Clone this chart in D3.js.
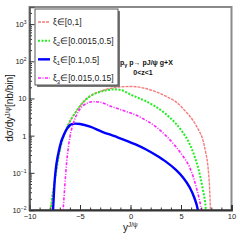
<!DOCTYPE html>
<html>
<head>
<meta charset="utf-8">
<script src="https://cdn.jsdelivr.net/npm/d3@7"></script>
<style>
  html, body { margin: 0; padding: 0; background: #fff; }
  svg { display: block; font-family: "Liberation Sans", Arial, sans-serif; }
</style>
</head>
<body>
<svg id="chart" width="240" height="240"></svg>
<script>
// rapidity values and dsigma/dy for each xi range
const xAll = [-8.0, -7.9, -7.5, -7.0, -6.5, -6.0, -5.5, -5.0, -4.5, -4.0, -3.0, -2.0, -1.0, 0.0, 0.5, 1.5, 2.5, 3.5, 4.5, 5.3, 6.17, 6.7, 7.17, 7.45, 7.67, 7.85, 7.95];
const yAll = [0.005, 0.01, 0.06, 0.4, 1.2, 2.4, 4.0, 6.2, 9.0, 11.6, 15.6, 18.6, 20.5, 21, 20.7, 18.5, 15.2, 11.5, 8.1, 5.0, 2.6, 1.5, 0.76, 0.35, 0.146, 0.03, 0.005];

const xXi2 = [-8.0, -7.9, -7.5, -7.0, -6.5, -6.0, -5.5, -5.0, -4.5, -4.0, -3.0, -2.0, -1.6, -1.0, 0.0, 0.5, 1.5, 2.5, 3.5, 4.5, 5.2, 5.83, 6.3, 6.67, 7.17, 7.4, 7.55];
const yXi2 = [0.005, 0.01, 0.06, 0.4, 1.2, 2.4, 4.0, 6.2, 9.0, 11.5, 15.0, 17.3, 17.6, 17.0, 12.8, 11.1, 8.5, 6.0, 3.8, 2.1, 1.2, 0.62, 0.3, 0.146, 0.035, 0.015, 0.005];

const xXi1 = [-7.72, -7.67, -7.5, -7.0, -6.5, -6.2, -6.0, -5.8, -5.5, -5.0, -4.0, -2.8, -1.5, 0.5, 1.5, 2.5, 3.5, 4.5, 5.2, 5.83, 6.3, 6.67, 6.8];
const yXi1 = [0.006, 0.01, 0.065, 0.5, 1.2, 1.65, 1.9, 2.05, 2.1, 2.05, 1.75, 1.27, 0.95, 0.58, 0.43, 0.30, 0.2, 0.12, 0.075, 0.042, 0.022, 0.01, 0.006];

const xXi3 = [-6.75, -6.67, -6.33, -6.0, -5.67, -5.17, -4.33, -3.67, -3.0, -1.83, -0.5, 0.5, 1.5, 2.5, 3.5, 4.5, 5.2, 5.83, 6.2, 6.5, 6.8, 7.0, 7.1];
const yXi3 = [0.005, 0.01, 0.18, 0.93, 2.1, 4.4, 7.4, 8.2, 7.9, 6.0, 4.5, 3.6, 2.6, 1.74, 1.0, 0.5, 0.28, 0.146, 0.08, 0.042, 0.02, 0.01, 0.005];

const xTicks = [-10, -5, 0, 5, 10];
const yTicks = [1e-2, 1e-1, 1, 10, 1e2, 1e3];
const yTickLabels = [["10", "-2"], ["10", "-1"], ["1", ""], ["10", ""], ["10", "2"], ["10", "3"]];

const series = [
  { sub: "", range: "\u2208[0,1]", xs: xAll, ys: yAll, color: "#f47c7c", width: 1.4, dash: "3,1" },
  { sub: "2", range: "\u2208[0.0015,0.5]", xs: xXi2, ys: yXi2, color: "#22ee22", width: 2, dash: "2,1.5" },
  { sub: "1", range: "\u2208[0.1,0.5]", xs: xXi1, ys: yXi1, color: "#0000ff", width: 2.4, dash: null },
  { sub: "3", range: "\u2208[0.015,0.15]", xs: xXi3, ys: yXi3, color: "#ff22ff", width: 1.6, dash: "3,1.5,1,1.5" }
];

const svg = d3.select('#chart');
const fLeft = 29.5, fRight = 231.5, fTop = 7, fBottom = 210;

const x = d3.scaleLinear().domain([-10, 10]).range([fLeft, fRight]);
const y = d3.scaleLog().domain([1e-2, Math.pow(10, 3.46)]).range([fBottom, fTop]);

svg.append('defs').append('clipPath').attr('id', 'clip')
  .append('rect')
  .attr('x', fLeft).attr('y', fTop)
  .attr('width', fRight - fLeft).attr('height', fBottom - fTop);

// frame
svg.append('rect')
  .attr('x', fLeft).attr('y', fTop)
  .attr('width', fRight - fLeft).attr('height', fBottom - fTop)
  .attr('fill', 'none')
  .attr('stroke', '#8a8a8a')
  .attr('stroke-width', 2);

// curves
const line = d3.line()
  .x(d => x(d[0]))
  .y(d => y(d[1]))
  .curve(d3.curveMonotoneX);

const plot = svg.append('g').attr('clip-path', 'url(#clip)');
series.forEach(s => {
  plot.append('path')
    .datum(s.xs.map((v, i) => [v, s.ys[i]]))
    .attr('d', line)
    .attr('fill', 'none')
    .attr('stroke', s.color)
    .attr('stroke-width', s.width)
    .attr('stroke-dasharray', s.dash);
});

// x axis
const xMinor = d3.range(-10, 10.01, 1);
svg.append('g')
  .attr('transform', `translate(0,${fBottom})`)
  .call(d3.axisBottom(x).tickValues(xMinor).tickSize(-2.5).tickFormat(''))
  .call(g => g.select('.domain').remove())
  .call(g => g.selectAll('line').attr('stroke', '#333'));

svg.append('g')
  .attr('transform', `translate(0,${fBottom})`)
  .call(d3.axisBottom(x).tickValues(xTicks).tickSize(-5).tickPadding(4).tickFormat(d3.format('d')))
  .call(g => g.select('.domain').attr('stroke', '#333').attr('stroke-width', 1.8))
  .call(g => g.selectAll('line').attr('stroke', '#333'))
  .call(g => g.selectAll('text').attr('font-size', 7.5).attr('fill', '#222').text(d => d < 0 ? '\u2212' + (-d) : d));

// y axis
const yMinor = [];
for (let e = -2; e <= 3; e++) {
  for (let k = 2; k <= 9; k++) {
    const v = k * Math.pow(10, e);
    if (v <= y.domain()[1]) yMinor.push(v);
  }
}
svg.append('g')
  .attr('transform', `translate(${fLeft},0)`)
  .call(d3.axisLeft(y).tickValues(yMinor).tickSize(-2.5).tickFormat(''))
  .call(g => g.select('.domain').remove())
  .call(g => g.selectAll('line').attr('stroke', '#333'));

const yAx = svg.append('g')
  .attr('transform', `translate(${fLeft},0)`)
  .call(d3.axisLeft(y).tickValues(yTicks).tickSize(-5).tickFormat(''))
  .call(g => g.select('.domain').attr('stroke', '#555').attr('stroke-width', 1.6))
  .call(g => g.selectAll('line').attr('stroke', '#333'));

yAx.selectAll('.tick').each(function(d, i) {
  const t = d3.select(this).append('text')
    .attr('x', -3)
    .attr('dy', '0.32em')
    .attr('fill', '#222')
    .attr('font-size', 7.5)
    .attr('text-anchor', 'end');
  t.append('tspan').text(yTickLabels[i][0]);
  if (yTickLabels[i][1]) {
    t.append('tspan').attr('dy', -3).attr('font-size', 5).text(yTickLabels[i][1].replace('-', '\u2212'));
  }
});

// axis titles
const yt = svg.append('text')
  .attr('transform', 'translate(13,108) rotate(-90)')
  .attr('text-anchor', 'middle')
  .attr('font-size', 10)
  .attr('fill', '#111');
yt.append('tspan').text('d\u03c3/dy');
yt.append('tspan').attr('dy', -3.5).attr('font-size', 6.5).text('J/\u03c8');
yt.append('tspan').attr('dy', 3.5).text('[nb/bin]');

const xt = svg.append('text')
  .attr('x', 123).attr('y', 231)
  .attr('font-size', 10)
  .attr('fill', '#111');
xt.append('tspan').text('y');
xt.append('tspan').attr('dy', -4).attr('font-size', 6.5).text('J/\u03c8');

// legend
const lg = svg.append('g');
lg.append('rect')
  .attr('x', 37).attr('y', 11)
  .attr('width', 83).attr('height', 76)
  .attr('fill', '#777');
lg.append('rect')
  .attr('x', 35).attr('y', 9)
  .attr('width', 83).attr('height', 76)
  .attr('fill', '#fff')
  .attr('stroke', '#555')
  .attr('stroke-width', 1);

const rowY = d3.scalePoint().domain(series.map((s, i) => i)).range([22, 78]);
series.forEach((s, i) => {
  const yy = rowY(i);
  lg.append('line')
    .attr('x1', 38).attr('x2', 50)
    .attr('y1', yy).attr('y2', yy)
    .attr('stroke', s.color)
    .attr('stroke-width', s.width)
    .attr('stroke-dasharray', s.dash);
  const t = lg.append('text')
    .attr('x', 53).attr('y', yy + 3.2)
    .attr('font-size', 8.6)
    .attr('fill', '#222');
  t.append('tspan').text('\u03be');
  if (s.sub) {
    t.append('tspan').attr('dy', 2.5).attr('font-size', 6).text(s.sub);
    t.append('tspan').attr('dy', -2.5).text(s.range);
  } else {
    t.append('tspan').text(s.range);
  }
});

// process label
const pl = svg.append('text')
  .attr('x', 120).attr('y', 65)
  .attr('font-size', 7)
  .attr('font-weight', 'bold')
  .attr('fill', '#111');
pl.append('tspan').text('p');
pl.append('tspan').attr('dy', 1.5).attr('font-size', 5.5).text('\u03b3');
pl.append('tspan').attr('dy', -1.5).text(' p\u2192 pJ/\u03c8 g+X');

svg.append('text')
  .attr('x', 143).attr('y', 74.5)
  .attr('text-anchor', 'middle')
  .attr('font-size', 7)
  .attr('font-weight', 'bold')
  .attr('fill', '#111')
  .text('0<z<1');
</script>
</body>
</html>
